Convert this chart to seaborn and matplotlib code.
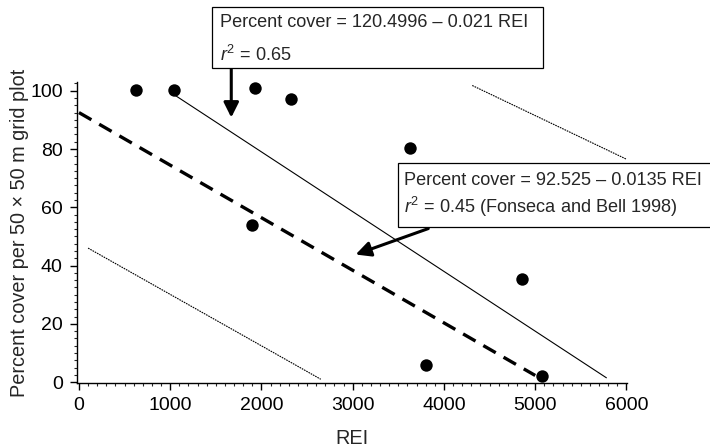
import matplotlib
matplotlib.use("Agg")
import matplotlib.pyplot as plt
import seaborn as sns
import numpy as np
import pandas as pd
from matplotlib.patches import Rectangle
from matplotlib.ticker import MultipleLocator

# ---- data ----
rei = [620, 1040, 1930, 2320, 1900, 3630, 4850, 3800, 5070]
cover = [100.3, 100.2, 101.0, 97.2, 53.8, 80.5, 35.3, 5.8, 2.0]

fit_x = [1030, 5780]           # solid regression line (this study)
fit_y = [98.9, 1.5]
fb_x = [0, 5000]               # dashed line (Fonseca and Bell 1998)
fb_y = [92.5, 2.3]
ci_low_x = [100, 2650]         # dotted confidence band
ci_low_y = [46.0, 1.0]
ci_up_x = [4310, 6000]
ci_up_y = [101.8, 76.5]

x_ticks = [0, 1000, 2000, 3000, 4000, 5000, 6000]
y_ticks = [0, 20, 40, 60, 80, 100]

eq1 = "Percent cover = 120.4996 \u2013 0.021 REI"
r1 = r"$r^2$ = 0.65"
eq2 = "Percent cover = 92.525 \u2013 0.0135 REI"
r2 = r"$r^2$ = 0.45 (Fonseca and Bell 1998)"

# ---- style ----
sns.set_style("ticks")
plt.rcParams["font.family"] = ["Liberation Sans", "DejaVu Sans"]
plt.rcParams["mathtext.fontset"] = "custom"
plt.rcParams["mathtext.rm"] = "Liberation Sans"
plt.rcParams["mathtext.it"] = "Liberation Sans:italic"

fig = plt.figure(figsize=(7.10, 4.48), dpi=100)
ax = fig.add_axes([0.108, 0.145, 0.775, 0.672])

df = pd.DataFrame({"REI": rei, "cover": cover})
sns.scatterplot(data=df, x="REI", y="cover", ax=ax, color="black", s=80,
                edgecolor="black", linewidth=0, zorder=5)

sns.lineplot(x=fit_x, y=fit_y, ax=ax, color="black", linewidth=0.8)
sns.lineplot(x=fb_x, y=fb_y, ax=ax, color="black", linewidth=2.4)
ax.lines[-1].set_dashes([4.3, 2.7])
sns.lineplot(x=ci_low_x, y=ci_low_y, ax=ax, color="black", linewidth=0.8)
ax.lines[-1].set_dashes([1.5, 0.8])
sns.lineplot(x=ci_up_x, y=ci_up_y, ax=ax, color="black", linewidth=0.8)
ax.lines[-1].set_dashes([1.5, 0.8])

ax.set_xlim(-25, 6005)
ax.set_ylim(-0.3, 103)
ax.set_xticks(x_ticks)
ax.set_xticklabels([str(v) for v in x_ticks])
ax.set_yticks(y_ticks)
ax.set_yticklabels([str(v) for v in y_ticks])
ax.xaxis.set_minor_locator(MultipleLocator(100))
ax.yaxis.set_minor_locator(MultipleLocator(2.5))
ax.tick_params(which="major", direction="out", length=5, width=1, labelsize=14, colors="black", pad=5)
ax.tick_params(which="minor", direction="out", length=2.5, width=0.8)
sns.despine(ax=ax)
for s in ["left", "bottom"]:
    ax.spines[s].set_linewidth(1.0)
    ax.spines[s].set_color("black")

ax.set_xlabel("REI", fontsize=14.3, labelpad=11)
ax.set_ylabel("Percent cover per 50 \u00d7 50 m grid plot", fontsize=14.3, labelpad=1)

# ---- annotation boxes ----
fig.patches.append(Rectangle((0.2986, 0.848), 0.466, 0.136, transform=fig.transFigure,
                             facecolor="white", edgecolor="black", linewidth=0.9, zorder=10))
fig.text(0.310, 0.949, eq1, fontsize=13.1, va="center", ha="left", zorder=11)
fig.text(0.310, 0.877, r1, fontsize=13.1, va="center", ha="left", zorder=11)

fig.patches.append(Rectangle((0.5606, 0.4933), 0.46, 0.143, transform=fig.transFigure,
                             facecolor="white", edgecolor="black", linewidth=0.9, zorder=10))
fig.text(0.569, 0.598, eq2, fontsize=13.1, va="center", ha="left", zorder=11)
fig.text(0.569, 0.538, r2, fontsize=13.1, va="center", ha="left", zorder=11)

arrow_kw = dict(arrowstyle="-|>,head_length=0.9,head_width=0.45", color="black",
                linewidth=2.2, shrinkA=0, shrinkB=0)
ax.annotate("", xy=(1669, 90.8), xytext=(1669, 107.9), xycoords="data",
            arrowprops=arrow_kw, annotation_clip=False)
ax.annotate("", xy=(3032, 43.8), xytext=(3828, 52.7), xycoords="data",
            arrowprops=arrow_kw, annotation_clip=False)

fig.savefig("out.png", dpi=100)
